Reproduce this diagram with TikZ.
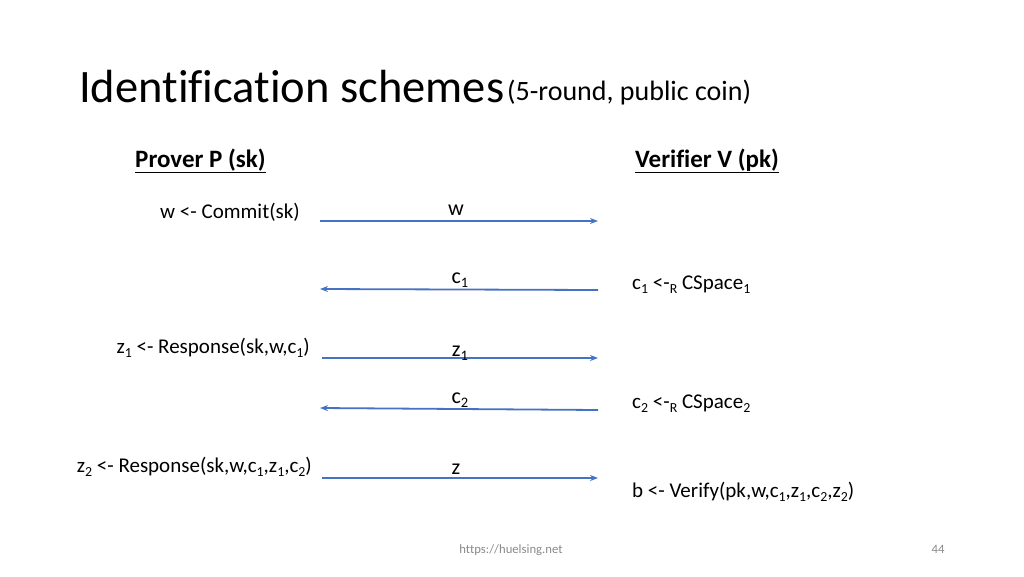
\documentclass[tikz,border=0pt]{standalone}
\usepackage{fontspec}
\usepackage{graphicx}
\setmainfont{Carlito}[Ligatures=NoCommon]
\usetikzlibrary{arrows.meta}

\definecolor{msgblue}{HTML}{4472C4}
\definecolor{footgray}{HTML}{898989}

% lowered index as the slide sets it
\newcommand{\idx}[1]{\raisebox{-0.45ex}{\scalebox{0.66}{#1}}}

\tikzset{
  msg/.style={-{Stealth[length=8pt,width=6pt]},draw=msgblue,line width=1.8pt},
  msglabel/.style={font=\fontsize{22}{26}\selectfont,inner sep=0pt},
  step text/.style={font=\fontsize{21}{25}\selectfont,inner sep=0pt},
  party/.style={font=\fontsize{25}{30}\bfseries\selectfont,inner sep=0pt}
}

\begin{document}
\begin{tikzpicture}[x=1pt,y=-1pt]
        \useasboundingbox (0,0) rectangle (1024,576);
        % title
        \node [anchor=base west,inner sep=0pt,font=\fontsize{46.5}{56}\selectfont] (title) at (79,102) {Identification schemes};
        \node [anchor=base west,inner sep=0pt,font=\fontsize{28}{33}\selectfont] (sub) at (507,100) {(5-round, public coin)};
        % parties
        \node [party,anchor=base west] (prover) at (135,167) {\underline{Prover P (sk)}};
        \node [party,anchor=base west] (verifier) at (635,167) {\underline{Verifier V (pk)}};
        % message ends
        \coordinate (p1) at (320,221); \coordinate (v1) at (598,221);
        \coordinate (p2) at (320,289); \coordinate (v2) at (598,290);
        \coordinate (p3) at (322,358); \coordinate (v3) at (598,358);
        \coordinate (p4) at (320,408); \coordinate (v4) at (598,410);
        \coordinate (p5) at (322,478); \coordinate (v5) at (598,478);
        \draw[msg] (p1) -- (v1);
        \draw[msg] (v2) -- (p2);
        \draw[msg] (p3) -- (v3);
        \draw[msg] (v4) -- (p4);
        \draw[msg] (p5) -- (v5);
        % message labels
        \node [msglabel,anchor=base] (w) at (456,215) {w};
        \node [msglabel,anchor=base] (c1) at (460,283) {c\idx{1}};
        \node [msglabel,anchor=base] (z1) at (460,356) {z\idx{1}};
        \node [msglabel,anchor=base] (c2) at (460,403) {c\idx{2}};
        \node [msglabel,anchor=base] (z) at (456,474) {z};
        % prover steps
        \node [step text,anchor=base east] (commit) at (300,218) {w <- Commit(sk)};
        \node [step text,anchor=base east] (resp1) at (310,353) {z\idx{1} <- Response(sk,w,c\idx{1})};
        \node [step text,anchor=base east] (resp2) at (312,472) {z\idx{2} <- Response(sk,w,c\idx{1},z\idx{1},c\idx{2})};
        % verifier steps
        \node [step text,anchor=base west] (chal1) at (632,289) {c\idx{1} <-\idx{R} CSpace\idx{1}};
        \node [step text,anchor=base west] (chal2) at (632,408) {c\idx{2} <-\idx{R} CSpace\idx{2}};
        \node [step text,anchor=base west] (verify) at (632,497) {b <- Verify(pk,w,c\idx{1},z\idx{1},c\idx{2},z\idx{2})};
        % footer
        \node [anchor=base,inner sep=0pt,text=footgray,font=\fontsize{12.7}{15}\selectfont] (url) at (511,553) {https://huelsing.net};
        \node [anchor=base,inner sep=0pt,text=footgray,font=\fontsize{12.7}{15}\selectfont] (page) at (938,553) {44};
\end{tikzpicture}
\end{document}
